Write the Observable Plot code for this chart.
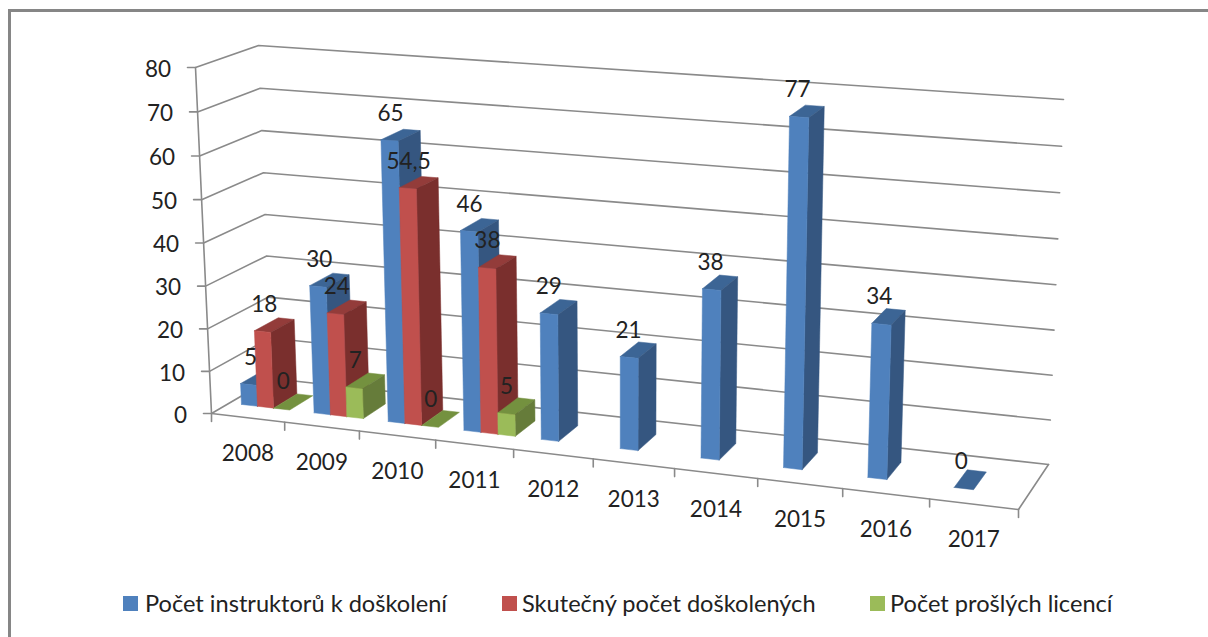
<!DOCTYPE html>
<html>
<head>
<meta charset="utf-8">
<script src="https://cdn.jsdelivr.net/npm/d3@7"></script>
<script src="https://cdn.jsdelivr.net/npm/@observablehq/plot@0.6"></script>
<style>
html,body{margin:0;padding:0;background:#fff;overflow:hidden}
#page{position:relative;width:1208px;height:637px;font-family:Lato,sans-serif;color:#222}
#frameTop{position:absolute;left:8px;top:9px;right:0;height:2.5px;background:#868686}
#frameLeft{position:absolute;left:8px;top:9px;bottom:0;width:2.5px;background:#868686}
#chart svg{display:block}
#legend{position:relative;height:62px}
#legend i{position:absolute;top:21px;width:14.5px;height:14.5px}
#legend span{position:absolute;top:14px;font-size:23.6px;line-height:28px;white-space:nowrap}
</style>
</head>
<body>
<div id="page">
<div id="chart"></div>
<div id="legend"></div>
<div id="frameTop"></div>
<div id="frameLeft"></div>
</div>
<script>
// Data
const years = [2008, 2009, 2010, 2011, 2012, 2013, 2014, 2015, 2016, 2017];
const instruktori = [5, 30, 65, 46, 29, 21, 38, 77, 34, 0];
const doskoleni = [18, 24, 54.5, 38, null, null, null, null, null, null];
const licence = [0, 7, 0, 5, null, null, null, null, null, null];
const valueTicks = [0, 10, 20, 30, 40, 50, 60, 70, 80];
const seriesNames = ["Počet instruktorů k doškolení", "Skutečný počet doškolených", "Počet prošlých licencí"];
const seriesValues = [instruktori, doskoleni, licence];
const seriesColors = [
  {front: "#4f81bd", side: "#355680", top: "#3c6595"},
  {front: "#c0504d", side: "#7a2f2d", top: "#933c3a"},
  {front: "#9bbb59", side: "#667c3a", top: "#74913f"}
];

// Projection of the 3D box (category u, depth v, value w) onto the page plane
const W = 1208, H = 575;
const C = {
  fl0: [211, 413], fr0: [1018, 509], bl0: [271, 378], br0: [1048, 464],
  fl1: [195, 67], fr1: [1034, 129], bl1: [258, 45], br1: [1063, 99]
};
const lerp = (a, b, t) => [a[0] + (b[0] - a[0]) * t, a[1] + (b[1] - a[1]) * t];
function project(cat, v, val) {
  const u = cat / years.length;
  const t = u / (1 + 0.114 * (1 - u));
  const s = val / 80;
  const h = s / (1 + 0.03 * (1 - s));
  const floor = lerp(lerp(C.fl0, C.fr0, t), lerp(C.bl0, C.br0, t), v);
  const roof = lerp(lerp(C.fl1, C.fr1, t), lerp(C.bl1, C.br1, t), v);
  return lerp(floor, roof, h);
}

// Wall grid, floor and axes as polylines
const lines = [];
let lid = 0;
function addLine(points) {
  const id = lid++;
  for (const p of points) lines.push({id, x: p[0], y: p[1]});
}
for (const t of valueTicks) {
  const a = project(0, 0, t), b = project(0, 1, t), c = project(years.length, 1, t);
  addLine([[a[0] - 8, a[1]], a, b, c]);
}
addLine([project(0, 0, 0), project(0, 0, 80)]);
addLine([project(0, 0, 0), project(years.length, 0, 0), project(years.length, 1, 0)]);
for (let i = 0; i <= years.length; i++) {
  const p = project(i, 0, 0);
  addLine([p, [p[0], p[1] + 8]]);
}

// Bar faces, painted left to right
const faces = [];
let fid = 0;
function addFace(points, fill) {
  const id = fid++;
  for (const p of [...points, points[0]]) faces.push({id, fill, x: p[0], y: p[1]});
}
const barW = 1 / 4.5, gap = 0.75 / 4.5, v0 = 0.3, v1 = 0.7;
const labels = [];
years.forEach((yr, i) => {
  seriesValues.forEach((vals, s) => {
    const val = vals[i];
    if (val == null) return;
    const a = i + gap + s * barW, b = a + barW, col = seriesColors[s];
    addFace([project(a, v0, val), project(b, v0, val), project(b, v1, val), project(a, v1, val)], col.top);
    if (val > 0) {
      addFace([project(b, v0, 0), project(b, v1, 0), project(b, v1, val), project(b, v0, val)], col.side);
      addFace([project(a, v0, 0), project(b, v0, 0), project(b, v0, val), project(a, v0, val)], col.front);
    }
    const c = (a + b) / 2, p = project(c, v0, val);
    labels.push({x: p[0] + 2 - 5 * c / years.length, y: p[1] - 27, text: String(val).replace(".", ",")});
  });
});

const yearLabels = years.map((yr, i) => {
  const p = project(i + 0.5, 0, 0);
  return {x: p[0], y: p[1] + 36, text: String(yr)};
});
const valueLabels = valueTicks.map(t => {
  const p = project(0, 0, t);
  return {x: p[0] - 24.5, y: p[1] + 2, text: String(t)};
});

const textOpts = {fontFamily: "Lato, sans-serif", fontSize: 22.5, fill: "#222"};
const chart = Plot.plot({
  width: W, height: H,
  margin: 0,
  x: {domain: [0, W], range: [0, W], axis: null},
  y: {domain: [0, H], range: [0, H], axis: null},
  color: {type: "identity"},
  marks: [
    Plot.line(lines, {x: "x", y: "y", z: "id", stroke: "#8a8a8a", strokeWidth: 1.6}),
    Plot.line(faces, {x: "x", y: "y", z: "id", fill: "fill", stroke: "fill", strokeWidth: 0.5}),
    Plot.text(yearLabels, {x: "x", y: "y", text: "text", ...textOpts}),
    Plot.text(valueLabels, {x: "x", y: "y", text: "text", textAnchor: "end", ...textOpts}),
    Plot.text(labels, {x: "x", y: "y", text: "text", ...textOpts})
  ]
});
document.getElementById("chart").appendChild(chart);

const legendPos = [[123, 145], [502, 522], [870, 890]];
const legend = document.getElementById("legend");
seriesNames.forEach((name, i) => {
  const sw = document.createElement("i");
  sw.style.left = legendPos[i][0] + "px";
  sw.style.background = seriesColors[i].front;
  const tx = document.createElement("span");
  tx.style.left = legendPos[i][1] + "px";
  tx.textContent = name;
  legend.append(sw, tx);
});
</script>
</body>
</html>
